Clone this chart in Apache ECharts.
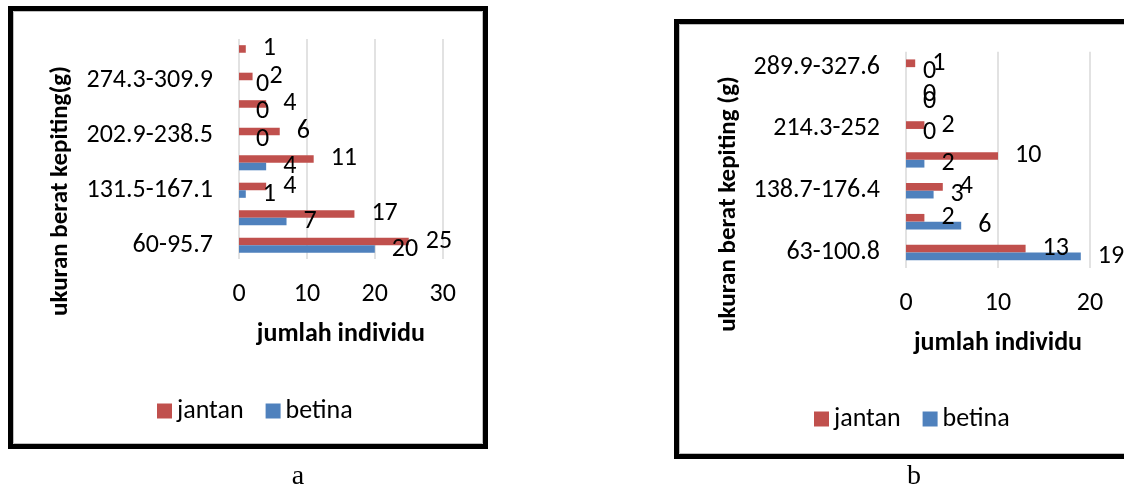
<!DOCTYPE html>
<html>
<head>
<meta charset="utf-8">
<script src="https://cdn.jsdelivr.net/npm/echarts@6/dist/echarts.min.js"></script>
<style>
  html, body { margin: 0; padding: 0; background: #fff; }
  #chart { width: 1124px; height: 491px; }
</style>
</head>
<body>
<div id="chart"></div>
<script>
// ---- data (bottom category first) ----
const categoriesA = ['60-95.7', '95.8-131.4', '131.5-167.1', '167.2-202.8', '202.9-238.5', '238.6-274.2', '274.3-309.9', '310-345.5'];
const jantanA = [25, 17, 4, 11, 6, 4, 2, 1];
const betinaA = [20, 7, 1, 4, 0, 0, 0, null];

const categoriesB = ['63-100.8', '100.9-138.6', '138.7-176.4', '176.5-214.2', '214.3-252', '252.1-289.8', '289.9-327.6'];
const jantanB = [13, 2, 4, 10, 2, 0, 1];
const betinaB = [19, 6, 3, 2, 0, 0, 0];

const seriesNames = ['jantan', 'betina'];
const yTitleA = 'ukuran berat kepiting(g)';
const yTitleB = 'ukuran berat kepiting (g)';
const xTitle = 'jumlah individu';
const captions = ['a', 'b'];

const FONT = 'Carlito, Lato, sans-serif';
const FS = 26;
const RED = '#C0504D';
const BLUE = '#4F81BD';
const GRID = '#D9D9D9';

const chart = echarts.init(document.getElementById('chart'), null, { renderer: 'canvas' });

function xAxisCfg(gridIndex, max) {
  return {
    gridIndex, type: 'value', min: 0, max, interval: 10,
    name: xTitle, nameLocation: 'middle', nameGap: 62,
    nameTextStyle: { fontFamily: FONT, fontSize: 26, fontWeight: 'bold', color: '#000' },
    axisLine: { show: false }, axisTick: { show: false },
    axisLabel: { fontFamily: FONT, fontSize: FS, color: '#000', margin: 22 },
    splitLine: { show: true, lineStyle: { color: GRID, width: 1.5 } }
  };
}
function yAxisCfg(gridIndex, cats) {
  return {
    gridIndex, type: 'category', data: cats,
    axisLine: { show: false }, axisTick: { show: false },
    axisLabel: { interval: 1, fontFamily: FONT, fontSize: FS, color: '#000', margin: 26 },
    splitLine: { show: false }
  };
}
function barSeries(name, data, idx, color, gap) {
  return {
    name, type: 'bar', data, xAxisIndex: idx, yAxisIndex: idx,
    barGap: '0%', barCategoryGap: gap,
    itemStyle: { color },
    label: { show: true, position: 'right', distance: 17, fontFamily: FONT, fontSize: FS, color: '#000' },
    animation: false
  };
}
function legendCfg(left, top) {
  return {
    left, top, data: seriesNames, icon: 'rect', itemWidth: 15, itemHeight: 15, itemGap: 22,
    textStyle: { fontFamily: FONT, fontSize: FS, color: '#000' }, selectedMode: false
  };
}

chart.setOption({
  animation: false,
  backgroundColor: '#fff',
  grid: [
    { left: 239, top: 39, width: 203.7, height: 220 },
    { left: 906, top: 51.7, width: 184, height: 216.3 }
  ],
  xAxis: [xAxisCfg(0, 30), xAxisCfg(1, 20)],
  yAxis: [yAxisCfg(0, categoriesA), yAxisCfg(1, categoriesB)],
  legend: [legendCfg(152, 393), legendCfg(809, 401)],
  series: [
    barSeries(seriesNames[0], jantanA, 0, RED, '45%'),
    barSeries(seriesNames[1], betinaA, 0, BLUE, '45%'),
    barSeries(seriesNames[0], jantanB, 1, RED, '50%'),
    barSeries(seriesNames[1], betinaB, 1, BLUE, '50%')
  ],
  graphic: [
    { type: 'rect', shape: { x: 10.5, y: 8.5, width: 475, height: 438 }, style: { fill: 'none', stroke: '#000', lineWidth: 5 }, z: 10 },
    { type: 'rect', shape: { x: 13.5, y: 11.5, width: 469, height: 432 }, style: { fill: 'none', stroke: '#BFBFBF', lineWidth: 1 }, z: 10 },
    { type: 'rect', shape: { x: 676.5, y: 21.5, width: 600, height: 435 }, style: { fill: 'none', stroke: '#000', lineWidth: 5 }, z: 10 },
    { type: 'rect', shape: { x: 679.5, y: 24.5, width: 600, height: 429 }, style: { fill: 'none', stroke: '#BFBFBF', lineWidth: 1 }, z: 10 },
    { type: 'text', x: 61, y: 191, rotation: Math.PI / 2,
      style: { text: yTitleA, fontFamily: FONT, fontSize: 25, fontWeight: 'bold', fill: '#000', align: 'center', verticalAlign: 'middle' } },
    { type: 'text', x: 729, y: 204, rotation: Math.PI / 2,
      style: { text: yTitleB, fontFamily: FONT, fontSize: 25, fontWeight: 'bold', fill: '#000', align: 'center', verticalAlign: 'middle' } },
    { type: 'text', x: 298, y: 477,
      style: { text: captions[0], fontFamily: '"Liberation Serif", "DejaVu Serif", serif', fontSize: 28, fill: '#000', align: 'center', verticalAlign: 'middle' } },
    { type: 'text', x: 914, y: 477,
      style: { text: captions[1], fontFamily: '"Liberation Serif", "DejaVu Serif", serif', fontSize: 28, fill: '#000', align: 'center', verticalAlign: 'middle' } }
  ]
});
</script>
</body>
</html>
